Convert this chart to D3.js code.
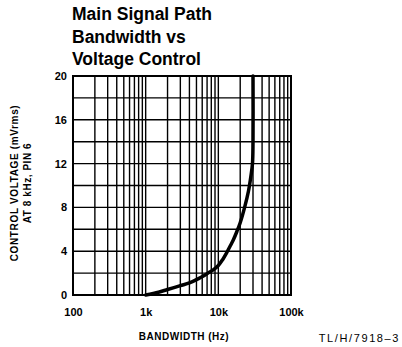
<!DOCTYPE html>
<html>
<head>
<meta charset="utf-8">
<script src="https://cdn.jsdelivr.net/npm/d3@7"></script>
<style>
  html, body { margin: 0; padding: 0; background: #fff; }
  svg { display: block; }
  text { fill: #000; }
</style>
</head>
<body>
<svg id="chart" width="402" height="347"></svg>
<script>
// Title lines
const titleLines = ["Main Signal Path", "Bandwidth vs", "Voltage Control"];

// Axes
const xDomain = [100, 100000];
const yDomain = [0, 20];
const xTickValues = [100, 1000, 10000, 100000];
const xTickLabels = ["100", "1k", "10k", "100k"];
const yTickValues = [0, 4, 8, 12, 16, 20];
const yGridValues = [0, 2, 4, 6, 8, 10, 12, 14, 16, 18, 20];

// Curve: bandwidth (Hz) against control voltage (mVrms)
const bandwidthHz = [1000, 1500, 2000, 3000, 4000, 5000, 7000, 8500, 10000, 11500, 13000, 14500, 16000, 18000, 20000, 23000, 26000, 28000, 29500, 30000, 30000];
const controlMv   = [0,    0.25, 0.5,  0.85, 1.1,  1.4,  1.95, 2.3,  2.7,   3.25,  3.85,  4.45,  5.0,   5.8,   6.6,   8.0,   9.5,   10.8,  12.0,  14.0,  20.0];

const svg = d3.select("#chart");
const plot = { left: 73, right: 291, top: 76, bottom: 295 };

const x = d3.scaleLog().domain(xDomain).range([plot.left, plot.right]);
const y = d3.scaleLinear().domain(yDomain).range([plot.bottom, plot.top]);

// Title
svg.append("g").selectAll("text").data(titleLines).join("text")
  .attr("x", 72)
  .attr("y", (d, i) => 20 + i * 22.5)
  .attr("font-family", "'Liberation Sans', Arial, sans-serif")
  .attr("font-weight", "bold")
  .attr("font-size", 17.5)
  .text(d => d);

// Vertical grid at every 1..9 step of each decade
const xGrid = [];
for (let dec = 100; dec < 100000; dec *= 10) {
  for (let k = 1; k <= 9; k++) xGrid.push(dec * k);
}
xGrid.push(100000);

const grid = svg.append("g").attr("stroke", "#000").attr("stroke-width", 1.4);
grid.selectAll("line.v").data(xGrid).join("line")
  .attr("class", "v")
  .attr("x1", d => x(d)).attr("x2", d => x(d))
  .attr("y1", plot.top).attr("y2", plot.bottom);
grid.selectAll("line.h").data(yGridValues).join("line")
  .attr("class", "h")
  .attr("x1", plot.left).attr("x2", plot.right)
  .attr("y1", d => y(d)).attr("y2", d => y(d));

// Frame
svg.append("rect")
  .attr("x", plot.left).attr("y", plot.top)
  .attr("width", plot.right - plot.left).attr("height", plot.bottom - plot.top)
  .attr("fill", "none").attr("stroke", "#000").attr("stroke-width", 2);

// Tick labels via d3 axes (tick lines hidden, grid drawn above)
const tickFont = "'Liberation Sans', Arial, sans-serif";
const xAxis = d3.axisBottom(x).tickValues(xTickValues)
  .tickFormat((d, i) => xTickLabels[i]).tickSize(0).tickPadding(13);
const gx = svg.append("g").attr("transform", `translate(0,${plot.bottom})`).call(xAxis);
gx.select(".domain").remove();
gx.selectAll("text").attr("font-family", tickFont).attr("font-weight", "bold")
  .attr("font-size", 11).attr("fill", "#000");

const yAxis = d3.axisLeft(y).tickValues(yTickValues).tickSize(0).tickPadding(6);
const gy = svg.append("g").attr("transform", `translate(${plot.left},0)`).call(yAxis);
gy.select(".domain").remove();
gy.selectAll("text").attr("font-family", tickFont).attr("font-weight", "bold")
  .attr("font-size", 11).attr("fill", "#000");

// Axis titles
svg.append("text")
  .attr("x", 184).attr("y", 340)
  .attr("text-anchor", "middle")
  .attr("font-family", tickFont).attr("font-weight", "bold")
  .attr("font-size", 10).attr("letter-spacing", 0.5)
  .text("BANDWIDTH (Hz)");

const yTitle = svg.append("g").attr("transform", "translate(0,183) rotate(-90)")
  .attr("font-family", tickFont).attr("font-weight", "bold").attr("font-size", 10)
  .attr("text-anchor", "middle");
yTitle.append("text").attr("x", 0).attr("y", 18).attr("letter-spacing", 0.65)
  .text("CONTROL VOLTAGE (mVrms)");
yTitle.append("text").attr("x", 0).attr("y", 31).attr("letter-spacing", 0.55)
  .text("AT 8 kHz, PIN 6");

// Figure reference
svg.append("text")
  .attr("x", 400).attr("y", 341.5)
  .attr("text-anchor", "end")
  .attr("font-family", "'Liberation Sans', Arial, sans-serif")
  .attr("font-size", 11).attr("letter-spacing", 1.6)
  .text("TL/H/7918\u20133");

// Curve
const pts = bandwidthHz.map((b, i) => [b, controlMv[i]]);
const line = d3.line().x(d => x(d[0])).y(d => y(d[1])).curve(d3.curveCatmullRom.alpha(0.5));
svg.append("path").datum(pts)
  .attr("d", line)
  .attr("fill", "none").attr("stroke", "#000").attr("stroke-width", 3.5)
  .attr("stroke-linejoin", "round").attr("stroke-linecap", "round");
</script>
</body>
</html>
